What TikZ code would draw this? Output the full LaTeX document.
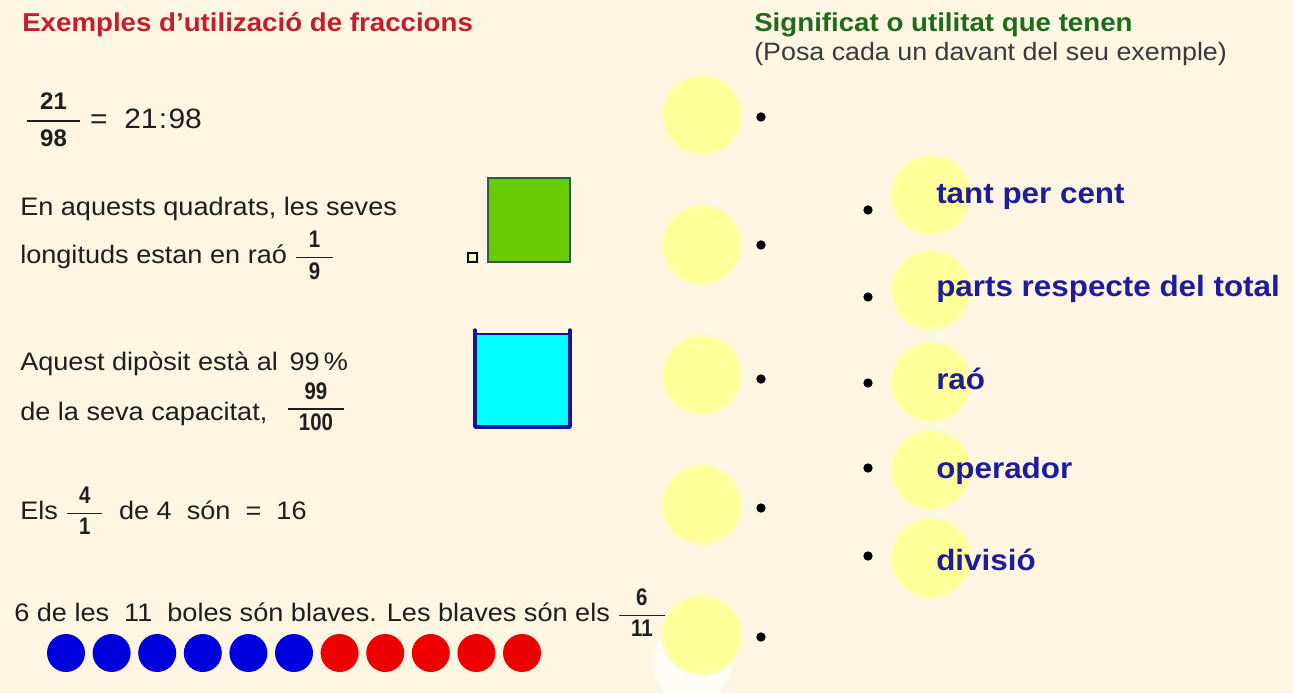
\documentclass[tikz,border=0pt]{standalone}
\usepackage{amsmath}
\usepackage{fontspec}
\setmainfont[FakeStretch=1.07]{Liberation Sans}
\newfontfamily\fracfont[FakeStretch=0.85]{Liberation Sans}
\newfontfamily\fracwide{Liberation Sans}
\definecolor{bgc}{HTML}{FEF6E3}
\definecolor{redt}{HTML}{C41E2A}
\definecolor{greent}{HTML}{1E6B1E}
\definecolor{subt}{HTML}{3A3A3A}
\definecolor{txtc}{HTML}{1E1E1E}
\definecolor{lblblue}{HTML}{1C1C9C}
\definecolor{ycore}{HTML}{FFFF99}
\definecolor{yhalo}{HTML}{FDFBC4}
\definecolor{sqgreen}{HTML}{66CC00}
\definecolor{sqedge}{HTML}{2F5A4A}
\definecolor{tankc}{HTML}{00FFFF}
\definecolor{tankedge}{HTML}{1414A0}
\definecolor{ballblue}{HTML}{0000DD}
\definecolor{ballred}{HTML}{EE0000}
% #1 size, #2 padding, #3 numerator, #4 denominator
\newcommand{\fr}[4]{\ensuremath{\genfrac{}{}{1.1pt}{0}{\hbox{\kern#2\fontsize{#1}{#1}\selectfont\fracfont\bfseries #3\kern#2}}{\hbox{\kern#2\fontsize{#1}{#1}\selectfont\fracfont\bfseries #4\kern#2}}}}
\newcommand{\frw}[4]{\ensuremath{\genfrac{}{}{1.1pt}{0}{\hbox{\kern#2\fontsize{#1}{#1}\selectfont\fracwide\bfseries #3\kern#2}}{\hbox{\kern#2\fontsize{#1}{#1}\selectfont\fracwide\bfseries #4\kern#2}}}}
\begin{document}
\begin{tikzpicture}[x=0.75pt,y=-0.75pt,
  txt/.style={anchor=base west, inner sep=0pt, font=\fontsize{19}{23}\selectfont, text=txtc},
  ttl/.style={anchor=base west, inner sep=0pt, font=\fontsize{19.4}{23}\selectfont\bfseries},
  sub/.style={anchor=base west, inner sep=0pt, font=\fontsize{18.8}{22}\selectfont, text=subt},
  lbl/.style={anchor=base west, inner sep=0pt, font=\fontsize{22}{26}\selectfont\bfseries, text=lblblue},
  halo/.style={circle, minimum size=62pt, inner sep=0pt, fill=yhalo},
  yc/.style={circle, minimum size=57pt, inner sep=0pt, fill=ycore},
  dotn/.style={circle, fill=black, minimum size=7pt, inner sep=0pt},
  ball/.style={circle, minimum size=28.5pt, inner sep=0pt}]
\useasboundingbox (0,0) rectangle (1293,693);
\fill[bgc] (0,0) rectangle (1293,693);

% titles
\node[ttl, text=redt] (title1) at (22,31) {Exemples d'utilizació de fraccions};
\node[ttl, text=greent] (title2) at (754,31) {Significat o utilitat que tenen};
\node[sub] (subtitle) at (754,60) {(Posa cada un davant del seu exemple)};

% examples
\node[txt, font=\fontsize{21}{24}\selectfont] (ex1) at (25,128) {\frw{18}{10pt}{21}{98}\ =\ \ 21\kern1pt:\kern1pt98};
\node[txt] (ex2a) at (20,215) {En aquests quadrats, les seves};
\node[txt] (ex2b) at (20,263) {longituds estan en raó\ \fr{18}{9.5pt}{1}{9}};
\node[txt] (ex3a) at (20,370) {Aquest dipòsit està al~\,99\,\%};
\node[txt] (ex3b) at (20,420) {de la seva capacitat,\ \ \,\raisebox{4pt}{\fr{18}{8pt}{99}{100}}};
\node[txt] (ex4) at (20,519) {Els \fr{18}{9pt}{4}{1}\ \ de 4\ \ són\ \ =\ \ 16};
\node[txt] (ex5) at (14,621) {6 de les\ \ 11\ \ boles són blaves. Les blaves són els \fr{18}{9pt}{6}{11}};

% squares
\draw[fill=sqgreen, draw=sqedge, line width=1.2pt] (488,178) rectangle (570,262);
\draw[fill=yhalo, draw=black, line width=1pt] (468,253) rectangle (477,262);

% tank
\fill[tankc] (475,334) rectangle (570,427);
\draw[tankedge, line width=1.4pt] (475,334) -- (570,334);
\draw[tankedge, line width=2.6pt, line cap=round, line join=round] (475,330) -- (475,427) -- (570,427) -- (570,330);

% balls
\foreach \i in {0,...,5} {
  \node[ball, fill=ballblue] (b\i) at ({66+45.6*\i},653) {};
}
\foreach \i in {6,...,10} {
  \node[ball, fill=ballred] (b\i) at ({66+45.6*\i},653) {};
}

% faint white crescent behind last circle
\fill[white!70!bgc] (692,662) circle[radius=30pt];

% left yellow circles and dots
\foreach \n/\y/\dy in {1/115/117, 2/245/245, 3/375/379, 4/505/508, 5/635/637} {
  \node[halo] (lh\n) at (702,\y) {};
  \node[yc] (lc\n) at (702,\y) {};
  \node[dotn] (ld\n) at (761,\dy) {};
}

% right yellow circles, dots and labels
\foreach \n/\y/\dy in {1/195/210, 2/290/297, 3/382/383, 4/470/468, 5/558/556} {
  \node[halo] (rh\n) at (931,\y) {};
  \node[yc] (rc\n) at (931,\y) {};
  \node[dotn] (rd\n) at (868,\dy) {};
}
\node[lbl] (l1) at (936,203) {tant per cent};
\node[lbl] (l2) at (936,296) {parts respecte del total};
\node[lbl] (l3) at (936,389) {raó};
\node[lbl] (l4) at (936,478) {operador};
\node[lbl] (l5) at (936,570) {divisió};
\end{tikzpicture}
\end{document}
